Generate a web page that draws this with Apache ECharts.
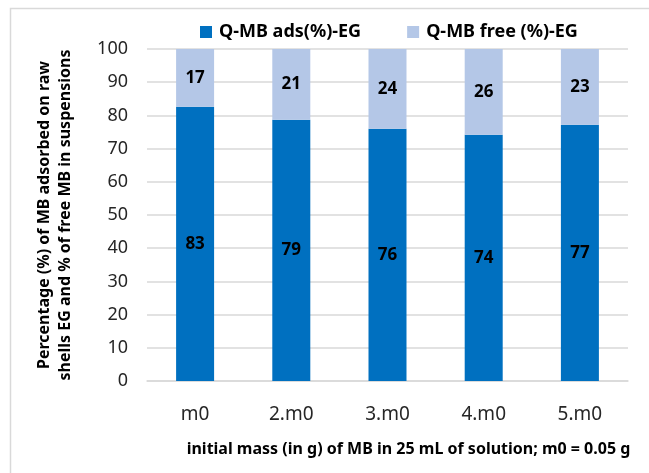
<!DOCTYPE html>
<html>
<head>
<meta charset="utf-8">
<script src="https://cdn.jsdelivr.net/npm/echarts@6/dist/echarts.min.js"></script>
<style>html,body{margin:0;padding:0;background:#fff}#c{width:649px;height:473px}</style>
</head>
<body>
<div id="c"></div>
<script>
var categories = ['m0', '2.m0', '3.m0', '4.m0', '5.m0'];
var adsValues = [82.6, 78.7, 76.0, 74.2, 77.2];
var freeValues = [17.4, 21.3, 24.0, 25.8, 22.8];
var seriesNames = ['Q-MB ads(%)-EG', 'Q-MB free (%)-EG'];
var yTicks = [0, 10, 20, 30, 40, 50, 60, 70, 80, 90, 100];
var xTitle = 'initial mass (in g) of MB in 25 mL of solution; m0 = 0.05 g';
var yTitle = 'Percentage (%) of MB adsorbed on raw\nshells EG and % of free MB in suspensions';

var FONT = 'Noto Sans';
var chart = echarts.init(document.getElementById('c'), null, {renderer: 'canvas'});
var labelStyle = {show: true, position: 'inside', color: '#000', fontFamily: FONT, fontWeight: 'bold', fontSize: 17,
  formatter: function (p) { return Math.round(p.value); }};
chart.setOption({
  backgroundColor: '#fff',
  animation: false,
  graphic: [{type: 'rect', shape: {x: 10.5, y: 8.5, width: 700, height: 600}, style: {fill: 'none', stroke: '#d9d9d9', lineWidth: 1.5}, silent: true}],
  legend: {
    left: 195, top: 18, itemWidth: 12, itemHeight: 12, itemGap: 46, icon: 'rect',
    textStyle: {fontFamily: FONT, fontWeight: 'bold', fontSize: 18, color: '#000', padding: [0, 0, 0, 2]},
    data: seriesNames
  },
  grid: {left: 147, right: 21, top: 49, bottom: 92},
  xAxis: {
    type: 'category', data: categories,
    axisLine: {show: true, lineStyle: {color: '#d9d9d9', width: 1.5}},
    axisTick: {show: false},
    axisLabel: {margin: 24, fontFamily: FONT, fontSize: 19, color: '#262626'},
    name: xTitle, nameLocation: 'middle', nameGap: 60,
    nameTextStyle: {fontFamily: FONT, fontWeight: 'bold', fontSize: 16, color: '#000', padding: [0, 0, 0, 42]}
  },
  yAxis: {
    type: 'value', min: 0, max: 100, interval: 10,
    axisLine: {show: false}, axisTick: {show: false},
    splitLine: {lineStyle: {color: '#d9d9d9', width: 1.5}},
    axisLabel: {margin: 19, fontFamily: FONT, fontSize: 18, color: '#262626',
      formatter: function (v) { return yTicks.indexOf(v) >= 0 ? String(v) : ''; }},
    name: yTitle, nameLocation: 'middle', nameGap: 71, nameRotate: 90,
    nameTextStyle: {fontFamily: FONT, fontWeight: 'bold', fontSize: 16, color: '#000', lineHeight: 21}
  },
  series: [
    {name: seriesNames[0], type: 'bar', stack: 't', data: adsValues, barWidth: '39.5%',
      itemStyle: {color: '#0070C0'}, label: labelStyle},
    {name: seriesNames[1], type: 'bar', stack: 't', data: freeValues, barWidth: '39.5%',
      itemStyle: {color: '#B4C7E7'}, label: labelStyle}
  ]
});
</script>
</body>
</html>
